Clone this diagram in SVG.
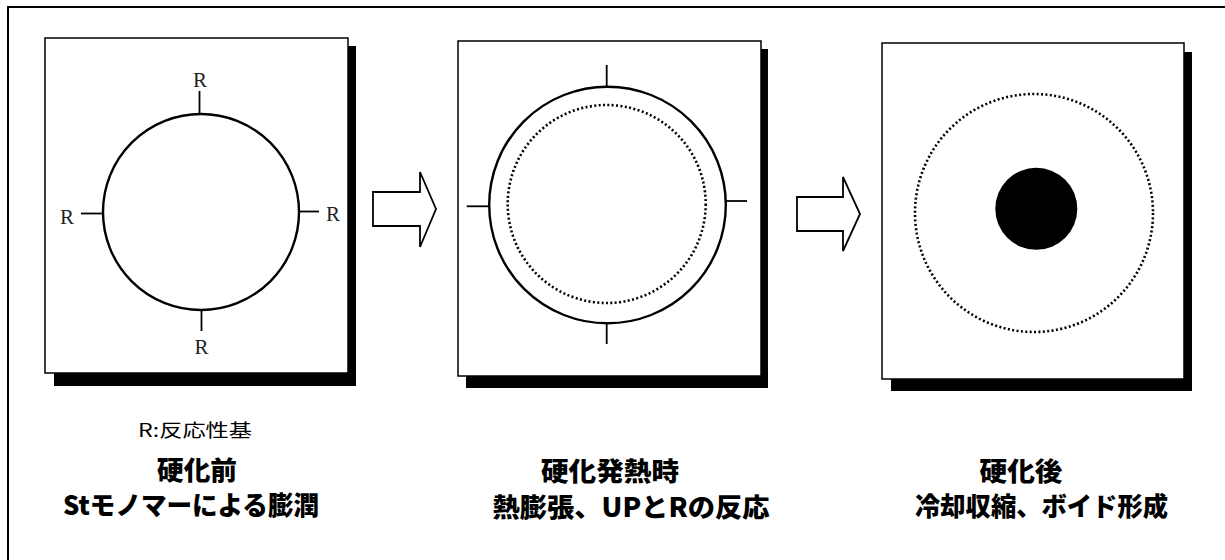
<svg xmlns="http://www.w3.org/2000/svg" width="1225" height="560" viewBox="0 0 1225 560">
<defs>
<style>
.frame{fill:none;stroke:#000;stroke-width:2}
.panel{fill:#fff;stroke:#000;stroke-width:1.5}
.shadow{fill:#000;stroke:none}
.solid{fill:none;stroke:#000;stroke-width:2.4}
.dot{fill:none;stroke:#000;stroke-width:2.6;stroke-dasharray:2 2.4}
.tick{stroke:#000;stroke-width:1.8;fill:none}
.arrow{fill:#fff;stroke:#000;stroke-width:1.8;stroke-linejoin:miter}
.r{font-family:"Liberation Serif","DejaVu Serif",serif;font-size:21px;fill:#222;text-anchor:middle}
.t{font-family:"Noto Sans CJK JP","Noto Sans",sans-serif;font-weight:900;font-size:26px;fill:#000;text-anchor:middle}
.s{font-family:"Noto Sans CJK JP","Noto Sans",sans-serif;font-size:18px;fill:#000;text-anchor:middle}
</style>
</defs>
<rect class="frame" x="8" y="7" width="1240" height="580"/>

<g id="panel1">
<rect class="shadow" x="54" y="46" width="302" height="340"/>
<rect class="panel" x="45" y="38" width="303" height="335"/>
<circle class="solid" cx="201" cy="212" r="98"/>
<line class="tick" x1="199.5" y1="91" x2="199.5" y2="114"/>
<line class="tick" x1="81" y1="213.5" x2="103" y2="213.5"/>
<line class="tick" x1="299" y1="211.5" x2="319" y2="211.5"/>
<line class="tick" x1="201.5" y1="310" x2="201.5" y2="331"/>
<text class="r" x="200" y="87">R</text>
<text class="r" x="67" y="224">R</text>
<text class="r" x="333" y="221">R</text>
<text class="r" x="201.5" y="354">R</text>
</g>

<g id="panel2">
<rect class="shadow" x="466" y="49" width="302" height="339"/>
<rect class="panel" x="458" y="41" width="303" height="335"/>
<circle class="solid" cx="607.5" cy="205" r="118.3"/>
<circle class="dot" cx="606.7" cy="204" r="99"/>
<line class="tick" x1="606.7" y1="65" x2="606.7" y2="86"/>
<line class="tick" x1="606.7" y1="323" x2="606.7" y2="344"/>
<line class="tick" x1="466.7" y1="206.3" x2="489" y2="206.3"/>
<line class="tick" x1="726" y1="201" x2="747" y2="201"/>
</g>

<g id="panel3">
<rect class="shadow" x="891" y="52" width="301" height="339"/>
<rect class="panel" x="882" y="43" width="302" height="336"/>
<circle class="dot" cx="1034" cy="213" r="119"/>
<circle cx="1036.3" cy="208.8" r="41" fill="#000"/>
</g>

<g id="connectors">
<polygon class="arrow" points="373,192 420,192 420,172 436,209 420,247 420,226 373,226"/>
<polygon class="arrow" points="797,197 843,197 843,177 860,214 843,251 843,231 797,231"/>
</g>

<g id="labels">
<text class="s" x="195" y="437" textLength="114" lengthAdjust="spacingAndGlyphs">R:反応性基</text>
<text class="t" x="197" y="480" textLength="80" lengthAdjust="spacingAndGlyphs">硬化前</text>
<text class="t" x="191" y="515" textLength="256" lengthAdjust="spacingAndGlyphs">Stモノマーによる膨潤</text>
<text class="t" x="610" y="481" textLength="138" lengthAdjust="spacingAndGlyphs">硬化発熱時</text>
<text class="t" x="631" y="517" textLength="277" lengthAdjust="spacingAndGlyphs">熱膨張、UPとRの反応</text>
<text class="t" x="1021" y="481" textLength="83" lengthAdjust="spacingAndGlyphs">硬化後</text>
<text class="t" x="1041.5" y="516" textLength="253" lengthAdjust="spacingAndGlyphs">冷却収縮、ボイド形成</text>
</g>
</svg>
